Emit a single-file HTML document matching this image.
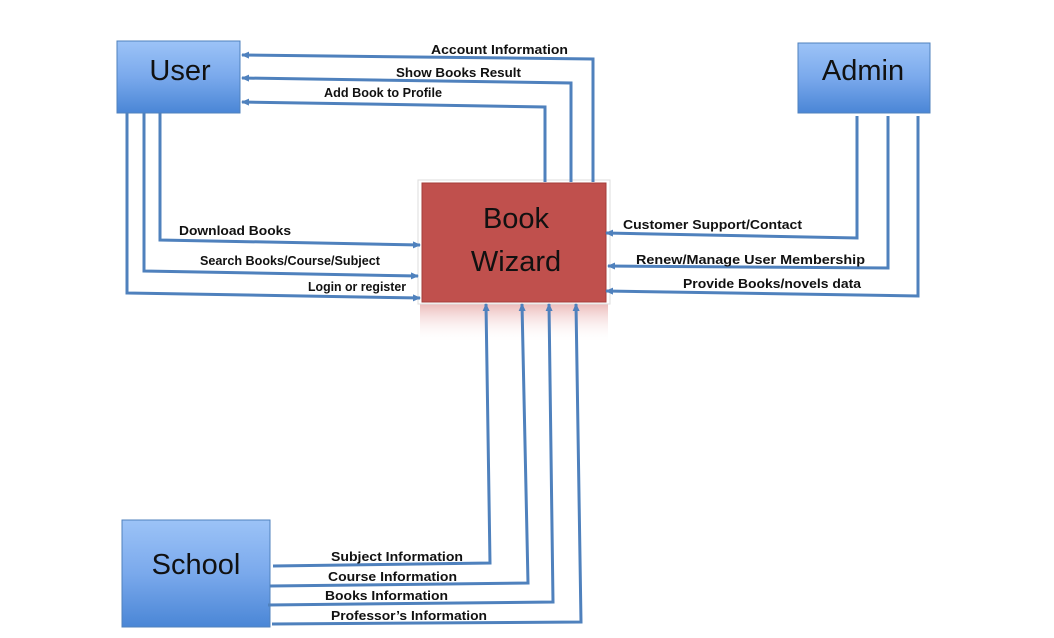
<!DOCTYPE html>
<html><head><meta charset="utf-8"><style>
html,body{margin:0;padding:0;background:#fff;}
svg{display:block;}
text{font-family:"Liberation Sans",sans-serif;}
.l{font-size:13px;font-weight:bold;fill:#111;}
.n{font-size:29px;fill:#111;}
</style></head><body>
<svg width="1054" height="638" viewBox="0 0 1054 638" xmlns="http://www.w3.org/2000/svg">
<defs>
<linearGradient id="b" x1="0" y1="0" x2="0" y2="1">
<stop offset="0" stop-color="#9cc3f7"/><stop offset="0.5" stop-color="#7aa9ec"/><stop offset="1" stop-color="#4a86d6"/></linearGradient>
<linearGradient id="r" x1="0" y1="0" x2="0" y2="1">
<stop offset="0" stop-color="#e6a6a5" stop-opacity="0.8"/><stop offset="1" stop-color="#fff" stop-opacity="0"/></linearGradient>
<marker id="a" markerWidth="8" markerHeight="8" refX="7" refY="4" orient="auto" markerUnits="userSpaceOnUse">
<path d="M0,0.5 L8,4 L0,7.5 z" fill="#4f81bd"/></marker>
</defs>
<rect x="117" y="41" width="123" height="72" fill="url(#b)" stroke="#4f81bd"/>
<text class="n" x="180" y="80" text-anchor="middle">User</text>
<rect x="798" y="43" width="132" height="70" fill="url(#b)" stroke="#4f81bd"/>
<text class="n" x="863" y="80" text-anchor="middle">Admin</text>
<rect x="122" y="520" width="148" height="107" fill="url(#b)" stroke="#4f81bd"/>
<text class="n" x="196" y="574" text-anchor="middle">School</text>
<rect x="420" y="303" width="188" height="40" fill="url(#r)"/>
<rect x="418" y="180" width="192" height="124" fill="#fff" stroke="#ddd"/>
<rect x="422" y="183" width="184" height="119" fill="#c0504d" stroke="#a33c39"/>
<text class="n" x="516" y="228" text-anchor="middle">Book</text>
<text class="n" x="516" y="271" text-anchor="middle">Wizard</text>
<g fill="none" stroke="#4f81bd" stroke-width="3">
<polyline points="593,182 593,59 242,55" marker-end="url(#a)"/>
<polyline points="571,182 571,83 242,78" marker-end="url(#a)"/>
<polyline points="545,182 545,107 242,102" marker-end="url(#a)"/>
<polyline points="160,113 160,240 420,245" marker-end="url(#a)"/>
<polyline points="144,113 144,271 418,276" marker-end="url(#a)"/>
<polyline points="127,113 127,293 420,298" marker-end="url(#a)"/>
<polyline points="857,116 857,238 606,233" marker-end="url(#a)"/>
<polyline points="888,116 888,268 608,266" marker-end="url(#a)"/>
<polyline points="918,116 918,296 606,291" marker-end="url(#a)"/>
<polyline points="273,566 490,563 486,304" marker-end="url(#a)"/>
<polyline points="270,586 528,583 522,304" marker-end="url(#a)"/>
<polyline points="268,605 553,602 549,304" marker-end="url(#a)"/>
<polyline points="272,624 581,622 576,304" marker-end="url(#a)"/>
</g>
<text class="l" x="431" y="54" textLength="137" lengthAdjust="spacingAndGlyphs">Account Information</text>
<text class="l" x="396" y="77" textLength="125" lengthAdjust="spacingAndGlyphs">Show Books Result</text>
<text class="l" x="324" y="97" textLength="118" lengthAdjust="spacingAndGlyphs">Add Book to Profile</text>
<text class="l" x="179" y="235" textLength="112" lengthAdjust="spacingAndGlyphs">Download Books</text>
<text class="l" x="200" y="265" textLength="180" lengthAdjust="spacingAndGlyphs">Search Books/Course/Subject</text>
<text class="l" x="308" y="291" textLength="98" lengthAdjust="spacingAndGlyphs">Login or register</text>
<text class="l" x="623" y="229" textLength="179" lengthAdjust="spacingAndGlyphs">Customer Support/Contact</text>
<text class="l" x="636" y="264" textLength="229" lengthAdjust="spacingAndGlyphs">Renew/Manage User Membership</text>
<text class="l" x="683" y="288" textLength="178" lengthAdjust="spacingAndGlyphs">Provide Books/novels data</text>
<text class="l" x="331" y="561" textLength="132" lengthAdjust="spacingAndGlyphs">Subject Information</text>
<text class="l" x="328" y="581" textLength="129" lengthAdjust="spacingAndGlyphs">Course Information</text>
<text class="l" x="325" y="600" textLength="123" lengthAdjust="spacingAndGlyphs">Books Information</text>
<text class="l" x="331" y="620" textLength="156" lengthAdjust="spacingAndGlyphs">Professor’s Information</text>
</svg>
</body></html>
